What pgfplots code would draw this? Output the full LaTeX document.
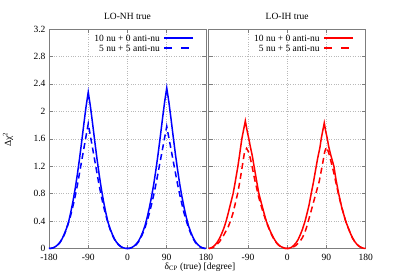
\documentclass[border=0pt]{standalone}
\usepackage{pgfplots}
\pgfplotsset{compat=1.18}
\usepackage{fontspec}
\setmainfont{Liberation Serif}
\definecolor{frame}{RGB}{125,125,125}
\definecolor{gridc}{RGB}{185,185,185}
\pgfplotsset{
  chi/.style={
    scale only axis, width=157pt, height=219.5pt,
    xmin=-180, xmax=180, ymin=0, ymax=3.2,
    xtick={-180,-90,0,90,180},
    ytick={0,0.4,0.8,1.2,1.6,2,2.4,2.8,3.2},
    axis line style={frame, line width=0.9pt},
    tick style={frame, line width=0.5pt},
    tick align=inside, major tick length=4pt,
    xtick pos=both, ytick pos=both,
    grid=major, major grid style={gridc, dotted, line width=0.5pt},
    /pgf/number format/assume math mode=true,
    ticklabel style={font=\fontsize{9.5}{10}\selectfont},
    xticklabel style={yshift=-2.5pt},
    title style={font=\fontsize{9.5}{11}\selectfont, yshift=0pt},
    clip=false,
  },
}
\tikzset{legtext/.style={anchor=east, inner sep=0pt, font=\fontsize{9.5}{10}\selectfont}}
\begin{document}
\begin{tikzpicture}[font=\fontsize{9.5}{11}\selectfont]
\useasboundingbox (0,0) rectangle (399pt,279pt);
\begin{axis}[chi, at={(49pt,30.5pt)}, anchor=south west, title={LO-NH true}]
\addplot[draw=blue, line width=1.5pt, no markers] coordinates {
(-180,0) (-175,0.003) (-170,0.012) (-165,0.028) (-160,0.055) (-155,0.09) (-150,0.14) (-145,0.21) (-140,0.29) (-135,0.39) (-130,0.53) (-125,0.69) (-120,0.87) (-115,1.08) (-110,1.31) (-105,1.56) (-100,1.82) (-95,2.07) (-90,2.28) (-85,2.07) (-80,1.82) (-75,1.56) (-70,1.31) (-65,1.08) (-60,0.87) (-55,0.69) (-50,0.53) (-45,0.39) (-40,0.29) (-35,0.21) (-30,0.14) (-25,0.09) (-20,0.055) (-15,0.028) (-10,0.012) (-5,0.003) (0,0)
(5,0.004) (10,0.015) (15,0.035) (20,0.065) (25,0.105) (30,0.165) (35,0.24) (40,0.33) (45,0.45) (50,0.59) (55,0.75) (60,0.93) (65,1.14) (70,1.37) (75,1.62) (80,1.88) (85,2.13) (90,2.34) (95,2.13) (100,1.88) (105,1.62) (110,1.37) (115,1.14) (120,0.93) (125,0.75) (130,0.59) (135,0.45) (140,0.33) (145,0.24) (150,0.165) (155,0.105) (160,0.065) (165,0.035) (170,0.015) (175,0.004) (180,0)
};
\addplot[draw=blue, line width=1.5pt, no markers, dash pattern=on 6pt off 4pt] coordinates {
(-180,0) (-175,0.003) (-170,0.01) (-165,0.025) (-160,0.05) (-155,0.085) (-150,0.135) (-145,0.2) (-140,0.28) (-135,0.38) (-130,0.49) (-125,0.62) (-120,0.76) (-115,0.92) (-110,1.10) (-105,1.28) (-100,1.46) (-95,1.64) (-90,1.82) (-85,1.64) (-80,1.46) (-75,1.28) (-70,1.10) (-65,0.92) (-60,0.76) (-55,0.62) (-50,0.49) (-45,0.38) (-40,0.28) (-35,0.2) (-30,0.135) (-25,0.085) (-20,0.05) (-15,0.025) (-10,0.01) (-5,0.003) (0,0)
(5,0.003) (10,0.012) (15,0.028) (20,0.055) (25,0.095) (30,0.15) (35,0.22) (40,0.30) (45,0.40) (50,0.51) (55,0.64) (60,0.78) (65,0.93) (70,1.10) (75,1.27) (80,1.44) (85,1.61) (90,1.78) (95,1.61) (100,1.44) (105,1.27) (110,1.10) (115,0.93) (120,0.78) (125,0.64) (130,0.51) (135,0.40) (140,0.30) (145,0.22) (150,0.15) (155,0.095) (160,0.055) (165,0.028) (170,0.012) (175,0.003) (180,0)
};
\node[legtext] at (rel axis cs:0.708,0.959) {10 nu + 0 anti-nu};
\node[legtext] at (rel axis cs:0.708,0.913) {5 nu + 5 anti-nu};
\draw[blue, line width=1.5pt] (rel axis cs:0.735,0.959) -- (rel axis cs:0.918,0.959);
\draw[blue, line width=1.5pt, dash pattern=on 8pt off 9pt] (rel axis cs:0.735,0.913) -- (rel axis cs:0.918,0.913);
\end{axis}
\begin{axis}[chi, at={(208.7pt,30.5pt)}, anchor=south west, title={LO-IH true},
  xticklabels={,-90,0,90,180}, yticklabels={}]
\addplot[draw=red, line width=1.5pt, no markers] coordinates {
(-180,0) (-175,0.007) (-170,0.025) (-165,0.055) (-160,0.095) (-155,0.15) (-150,0.22) (-145,0.3) (-140,0.4) (-135,0.52) (-130,0.65) (-124,0.8) (-120,0.94) (-113,1.2) (-110,1.33) (-104,1.6) (-100,1.73) (-96,1.86) (-92,1.72) (-88,1.6) (-85,1.5) (-80,1.35) (-76,1.2) (-70,0.98) (-65,0.8) (-60,0.68) (-55,0.56) (-48,0.4) (-45,0.35) (-40,0.27) (-35,0.2) (-30,0.14) (-25,0.09) (-20,0.055) (-15,0.03) (-10,0.015) (-5,0.004) (0,0)
(5,0.004) (10,0.018) (15,0.045) (20,0.08) (25,0.13) (30,0.2) (35,0.28) (41,0.4) (45,0.5) (50,0.63) (55,0.8) (60,0.96) (66.6,1.2) (70,1.32) (75,1.47) (78,1.6) (81,1.7) (85,1.83) (88,1.72) (92,1.6) (95,1.49) (100,1.36) (107,1.2) (112,1.0) (118,0.8) (125,0.6) (134,0.4) (140,0.3) (145,0.22) (150,0.15) (155,0.1) (160,0.06) (165,0.032) (170,0.014) (175,0.004) (180,0)
};
\addplot[draw=red, line width=1.5pt, no markers, dash pattern=on 6pt off 4pt] coordinates {
(-180,0) (-175,0.005) (-170,0.015) (-165,0.035) (-160,0.065) (-155,0.1) (-150,0.15) (-145,0.2) (-140,0.26) (-135,0.32) (-130,0.4) (-125,0.5) (-120,0.63) (-113,0.82) (-108,1.0) (-103,1.2) (-98,1.4) (-93,1.46) (-88,1.4) (-84,1.3) (-80,1.18) (-76,1.05) (-70,0.88) (-65,0.74) (-60,0.63) (-55,0.52) (-48,0.39) (-45,0.34) (-40,0.26) (-35,0.19) (-30,0.13) (-25,0.085) (-20,0.05) (-15,0.026) (-10,0.01) (-5,0.002) (0,0)
(5,0.002) (10,0.01) (15,0.025) (20,0.045) (25,0.075) (30,0.11) (35,0.16) (40,0.225) (45,0.32) (50.6,0.45) (55,0.55) (61,0.69) (67,0.83) (73.5,0.98) (81,1.23) (86,1.41) (90,1.48) (95,1.4) (100,1.28) (107,1.1) (112,0.95) (118,0.78) (125,0.6) (134,0.4) (140,0.3) (145,0.22) (150,0.15) (155,0.1) (160,0.06) (165,0.032) (170,0.014) (175,0.004) (180,0)
};
\node[legtext] at (rel axis cs:0.708,0.959) {10 nu + 0 anti-nu};
\node[legtext] at (rel axis cs:0.708,0.913) {5 nu + 5 anti-nu};
\draw[red, line width=1.5pt] (rel axis cs:0.735,0.959) -- (rel axis cs:0.918,0.959);
\draw[red, line width=1.5pt, dash pattern=on 8pt off 9pt] (rel axis cs:0.735,0.913) -- (rel axis cs:0.918,0.913);
\end{axis}
\node[rotate=90] at (8pt,139.5pt) {Δχ\textsuperscript{2}};
\node at (200pt,12pt) {δ\textsubscript{CP} (true) [degree]};
\end{tikzpicture}
\end{document}
